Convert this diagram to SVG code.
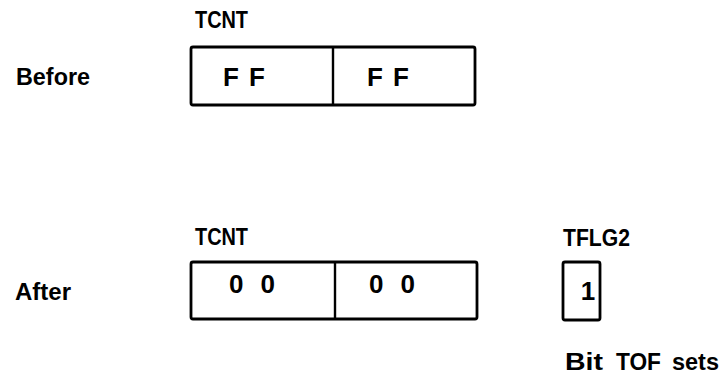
<svg xmlns="http://www.w3.org/2000/svg" width="723" height="377" viewBox="0 0 723 377">
  <style>
    .lbl { font-family: "Liberation Sans", Arial, sans-serif; font-weight: bold; font-size: 23px; fill: #000; }
    .val { font-family: "Liberation Sans", Arial, sans-serif; font-weight: bold; font-size: 26px; fill: #000; text-anchor: middle; }
    .reg { fill: none; stroke: #000; stroke-width: 2.8; }
    .div { stroke: #000; stroke-width: 2.4; }
  </style>
  <rect width="723" height="377" fill="#fff"/>

  <!-- row captions -->
  <text class="lbl" x="16" y="85" textLength="74" lengthAdjust="spacingAndGlyphs">Before</text>
  <text class="lbl" x="15" y="300" textLength="56" lengthAdjust="spacingAndGlyphs">After</text>

  <!-- timer counter before overflow -->
  <g id="tcnt-before">
    <text class="lbl" x="195" y="28" textLength="53" lengthAdjust="spacingAndGlyphs">TCNT</text>
    <rect class="reg" x="191" y="47" width="284" height="58" rx="2"/>
    <line class="div" x1="333" y1="47" x2="333" y2="105"/>
    <text class="val" x="244" y="86" textLength="42" lengthAdjust="spacing">F F</text>
    <text class="val" x="388" y="86" textLength="42" lengthAdjust="spacing">F F</text>
  </g>

  <!-- timer counter after overflow -->
  <g id="tcnt-after">
    <text class="lbl" x="195" y="245" textLength="53" lengthAdjust="spacingAndGlyphs">TCNT</text>
    <rect class="reg" x="191" y="262" width="286" height="57" rx="2"/>
    <line class="div" x1="335" y1="262" x2="335" y2="319"/>
    <text class="val" x="252" y="293" textLength="46" lengthAdjust="spacing">0 0</text>
    <text class="val" x="392" y="293" textLength="46" lengthAdjust="spacing">0 0</text>
  </g>

  <!-- overflow flag register -->
  <g id="tflg2">
    <text class="lbl" x="563" y="246" textLength="67" lengthAdjust="spacingAndGlyphs">TFLG2</text>
    <rect class="reg" x="563" y="262" width="37" height="58" rx="2"/>
    <text class="val" x="588" y="300" font-size="22">1</text>
  </g>

  <g id="note">
    <text class="lbl" x="565" y="370" font-size="24" textLength="38" lengthAdjust="spacingAndGlyphs">Bit</text>
    <text class="lbl" x="616" y="370" font-size="24" textLength="45" lengthAdjust="spacingAndGlyphs">TOF</text>
    <text class="lbl" x="672" y="370" font-size="24" textLength="47" lengthAdjust="spacingAndGlyphs">sets</text>
  </g>
</svg>
